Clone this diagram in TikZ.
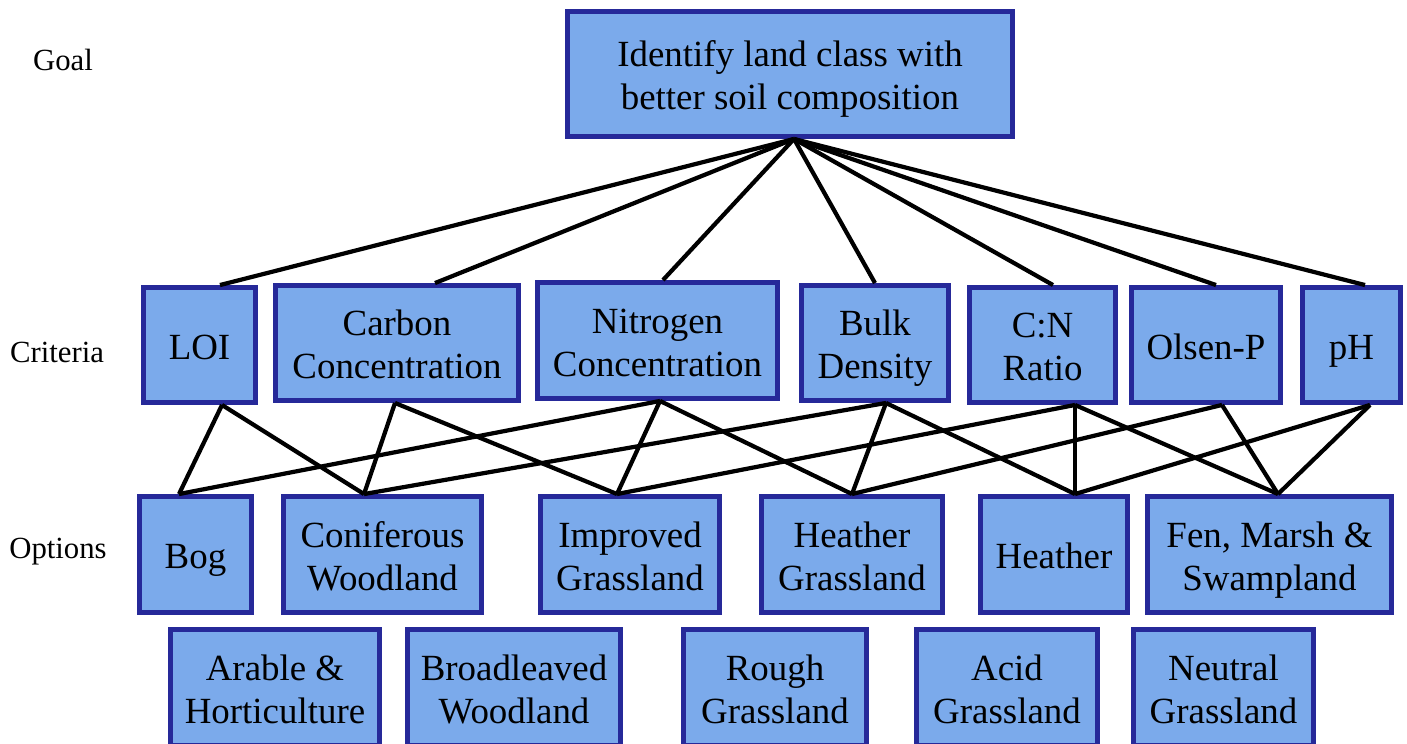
\documentclass[tikz,border=0pt]{standalone}
\usepackage{fontspec}
\setmainfont{Liberation Serif}
\usepackage{xcolor}
\definecolor{cajaazul}{RGB}{123,170,235}
\definecolor{bordeazul}{RGB}{38,41,153}
\usepackage{tikz}
\usetikzlibrary{positioning,calc}

\begin{document}
\begin{tikzpicture}[
    font=\fontsize{21}{24.4}\selectfont,
    box/.style={rectangle, draw=bordeazul, line width=2.8pt, fill=cajaazul,
      align=center, inner sep=2pt, text height=21.4pt, text depth=5pt},
    twoline/.style={text height=45.8pt},
    crit/.style={box, minimum height=2.3cm},
    opt/.style={box, minimum height=2.32cm},
    level/.style={font=\fontsize{17.5}{21}\selectfont},
    link/.style={line width=2.4pt, black}
  ]
    \useasboundingbox (0,0) rectangle (28.14,-14.86);

    % row labels
    \node[level] (lblgoal) at (1.26,-1.2) {Goal};
    \node[level] (lblcrit) at (1.14,-7.04) {Criteria};
    \node[level] (lblopt) at (1.16,-11.04) {Options};

    % goal
    \node[box, twoline, minimum width=8.9cm, minimum height=2.5cm] (goal) at (15.8,-1.48)
      {Identify land class with\\better soil composition};

    % criteria
    \node[crit, minimum width=2.24cm] (loi) at (3.99,-6.9) {LOI};
    \node[crit, twoline, minimum width=4.86cm] (carbon) at (7.94,-6.86) {Carbon\\Concentration};
    \node[crit, twoline, minimum width=4.8cm, minimum height=2.32cm] (nitrogen) at (13.15,-6.81) {Nitrogen\\Concentration};
    \node[crit, twoline, minimum width=2.94cm] (bulk) at (17.5,-6.86) {Bulk\\Density};
    \node[crit, twoline, minimum width=2.92cm] (cnratio) at (20.85,-6.9) {C:N\\Ratio};
    \node[crit, minimum width=2.98cm] (olsen) at (24.12,-6.9) {Olsen-P};
    \node[crit, minimum width=1.96cm] (ph) at (27.03,-6.9) {pH};

    % options, first row
    \node[opt, minimum width=2.24cm] (bog) at (3.91,-11.09) {Bog};
    \node[opt, twoline, minimum width=3.96cm] (conif) at (7.65,-11.09) {Coniferous\\Woodland};
    \node[opt, twoline, minimum width=3.58cm] (improved) at (12.6,-11.09) {Improved\\Grassland};
    \node[opt, twoline, minimum width=3.62cm] (heathgr) at (17.04,-11.09) {Heather\\Grassland};
    \node[opt, minimum width=2.94cm] (heather) at (21.08,-11.09) {Heather};
    \node[opt, twoline, minimum width=4.88cm] (fen) at (25.39,-11.09) {Fen, Marsh \&\\Swampland};

    % options, second row
    \node[opt, twoline, minimum width=4.18cm] (arable) at (5.5,-13.75) {Arable \&\\Horticulture};
    \node[opt, twoline, minimum width=4.26cm] (broadleaf) at (10.28,-13.75) {Broadleaved\\Woodland};
    \node[opt, twoline, minimum width=3.66cm] (rough) at (15.5,-13.75) {Rough\\Grassland};
    \node[opt, twoline, minimum width=3.62cm] (acid) at (20.14,-13.75) {Acid\\Grassland};
    \node[opt, twoline, minimum width=3.6cm] (neutral) at (24.47,-13.75) {Neutral\\Grassland};

    % attachment points
    \coordinate (goal-s) at ([xshift=0.08cm]goal.south);
    \coordinate (loi-n) at ([xshift=0.41cm]loi.north);
    \coordinate (carbon-n) at ([xshift=0.76cm]carbon.north);
    \coordinate (nitrogen-n) at ([xshift=0.11cm]nitrogen.north);
    \coordinate (bulk-n) at (bulk.north);
    \coordinate (cnratio-n) at ([xshift=0.21cm]cnratio.north);
    \coordinate (olsen-n) at ([xshift=0.2cm]olsen.north);
    \coordinate (ph-n) at ([xshift=0.27cm]ph.north);

    \coordinate (loi-s) at ([xshift=0.45cm]loi.south);
    \coordinate (carbon-s) at ([xshift=-0.04cm]carbon.south);
    \coordinate (nitrogen-s) at ([xshift=0.05cm]nitrogen.south);
    \coordinate (bulk-s) at ([xshift=0.22cm]bulk.south);
    \coordinate (cnratio-s) at ([xshift=0.65cm]cnratio.south);
    \coordinate (olsen-s) at ([xshift=0.32cm]olsen.south);
    \coordinate (ph-s) at ([xshift=0.37cm]ph.south);

    \coordinate (bog-n) at ([xshift=-0.33cm]bog.north);
    \coordinate (conif-n) at ([xshift=-0.37cm]conif.north);
    \coordinate (improved-n) at ([xshift=-0.26cm]improved.north);
    \coordinate (heathgr-n) at (heathgr.north);
    \coordinate (heather-n) at ([xshift=0.42cm]heather.north);
    \coordinate (fen-n) at ([xshift=0.17cm]fen.north);

    % goal to criteria
    \foreach \c in {loi,carbon,nitrogen,bulk,cnratio,olsen,ph}
      \draw[link] (goal-s) -- (\c-n);

    % criteria to options
    \draw[link] (loi-s) -- (bog-n);
    \draw[link] (loi-s) -- (conif-n);
    \draw[link] (carbon-s) -- (conif-n);
    \draw[link] (carbon-s) -- (improved-n);
    \draw[link] (nitrogen-s) -- (bog-n);
    \draw[link] (nitrogen-s) -- (improved-n);
    \draw[link] (nitrogen-s) -- (heathgr-n);
    \draw[link] (bulk-s) -- (conif-n);
    \draw[link] (bulk-s) -- (heathgr-n);
    \draw[link] (bulk-s) -- (heather-n);
    \draw[link] (cnratio-s) -- (improved-n);
    \draw[link] (cnratio-s) -- (heather-n);
    \draw[link] (cnratio-s) -- (fen-n);
    \draw[link] (olsen-s) -- (heathgr-n);
    \draw[link] (olsen-s) -- (fen-n);
    \draw[link] (ph-s) -- (heather-n);
    \draw[link] (ph-s) -- (fen-n);
\end{tikzpicture}
\end{document}
